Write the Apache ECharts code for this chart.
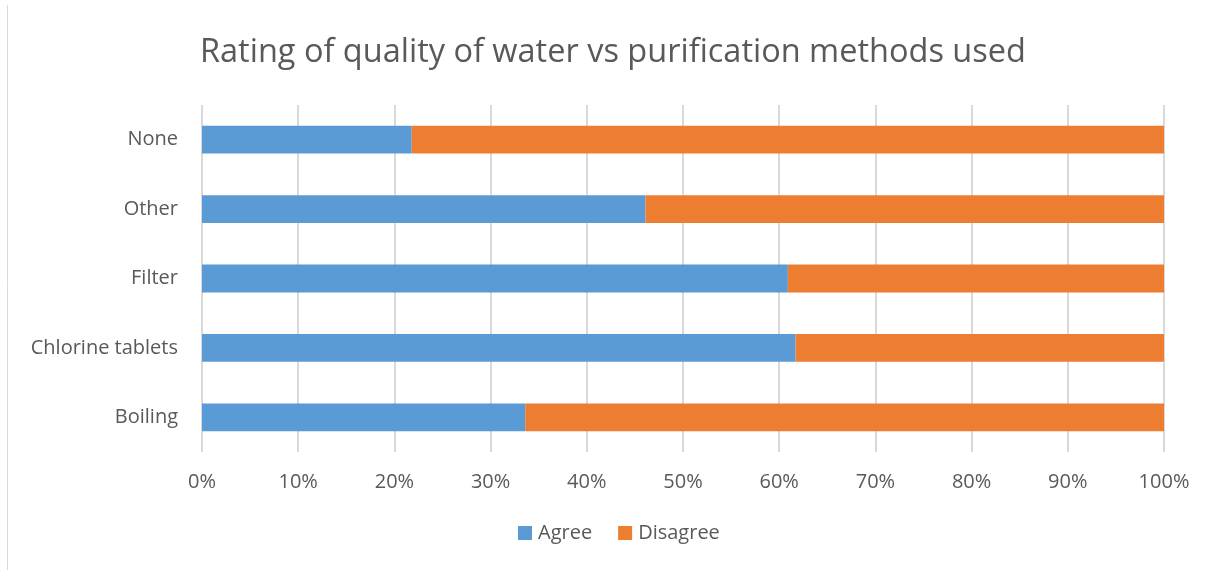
<!DOCTYPE html>
<html>
<head>
<meta charset="utf-8">
<script src="https://cdn.jsdelivr.net/npm/echarts@6/dist/echarts.min.js"></script>
<style>
  html, body { margin: 0; padding: 0; background: #fff; }
  #chart { width: 1216px; height: 570px; }
</style>
</head>
<body>
<div id="chart"></div>
<script>
// categories from bottom to top
const methods = ['Boiling', 'Chlorine tablets', 'Filter', 'Other', 'None']
const agree = [33.6, 61.7, 60.9, 46.1, 21.8]
const disagree = [66.4, 38.3, 39.1, 53.9, 78.2]
const seriesNames = ['Agree', 'Disagree']
const colors = ['#5b9bd5', '#ed7d31']

const chart = echarts.init(document.getElementById('chart'))

const font = 'Open Sans, Noto Sans, sans-serif'

chart.setOption({
  animation: false,
  title: {
    text: 'Rating of quality of water vs purification methods used',
    left: 195,
    top: 31,
    textStyle: {
      fontFamily: font,
      fontSize: 32.5,
      fontWeight: 'normal',
      color: '#595959'
    }
  },
  graphic: [{
    type: 'line',
    shape: { x1: 7.5, y1: 5, x2: 7.5, y2: 570 },
    style: { stroke: '#d9d9d9', lineWidth: 1 }
  }],
  legend: {
    bottom: 22,
    left: 513,
    itemWidth: 14,
    itemHeight: 14,
    itemGap: 26,
    icon: 'rect',
    textStyle: { fontFamily: font, fontSize: 20, color: '#595959', padding: [0, 0, 0, 1] },
    data: seriesNames
  },
  grid: {
    left: 202,
    right: 52,
    top: 105,
    bottom: 118,
    containLabel: false
  },
  xAxis: {
    type: 'value',
    min: 0,
    max: 100,
    interval: 10,
    axisLine: { show: false },
    axisTick: { show: false },
    splitLine: { lineStyle: { color: '#d9d9d9', width: 2 } },
    axisLabel: {
      formatter: '{value}%',
      fontFamily: font,
      fontSize: 20,
      color: '#595959',
      margin: 20
    }
  },
  yAxis: {
    type: 'category',
    data: methods,
    axisLine: { show: false },
    axisTick: { show: false },
    axisLabel: {
      fontFamily: font,
      fontSize: 20,
      color: '#595959',
      margin: 24
    }
  },
  series: [
    {
      name: seriesNames[0],
      type: 'bar',
      stack: 'total',
      barWidth: '40%',
      itemStyle: { color: colors[0] },
      data: agree
    },
    {
      name: seriesNames[1],
      type: 'bar',
      stack: 'total',
      barWidth: '40%',
      itemStyle: { color: colors[1] },
      data: disagree
    }
  ]
})
</script>
</body>
</html>
